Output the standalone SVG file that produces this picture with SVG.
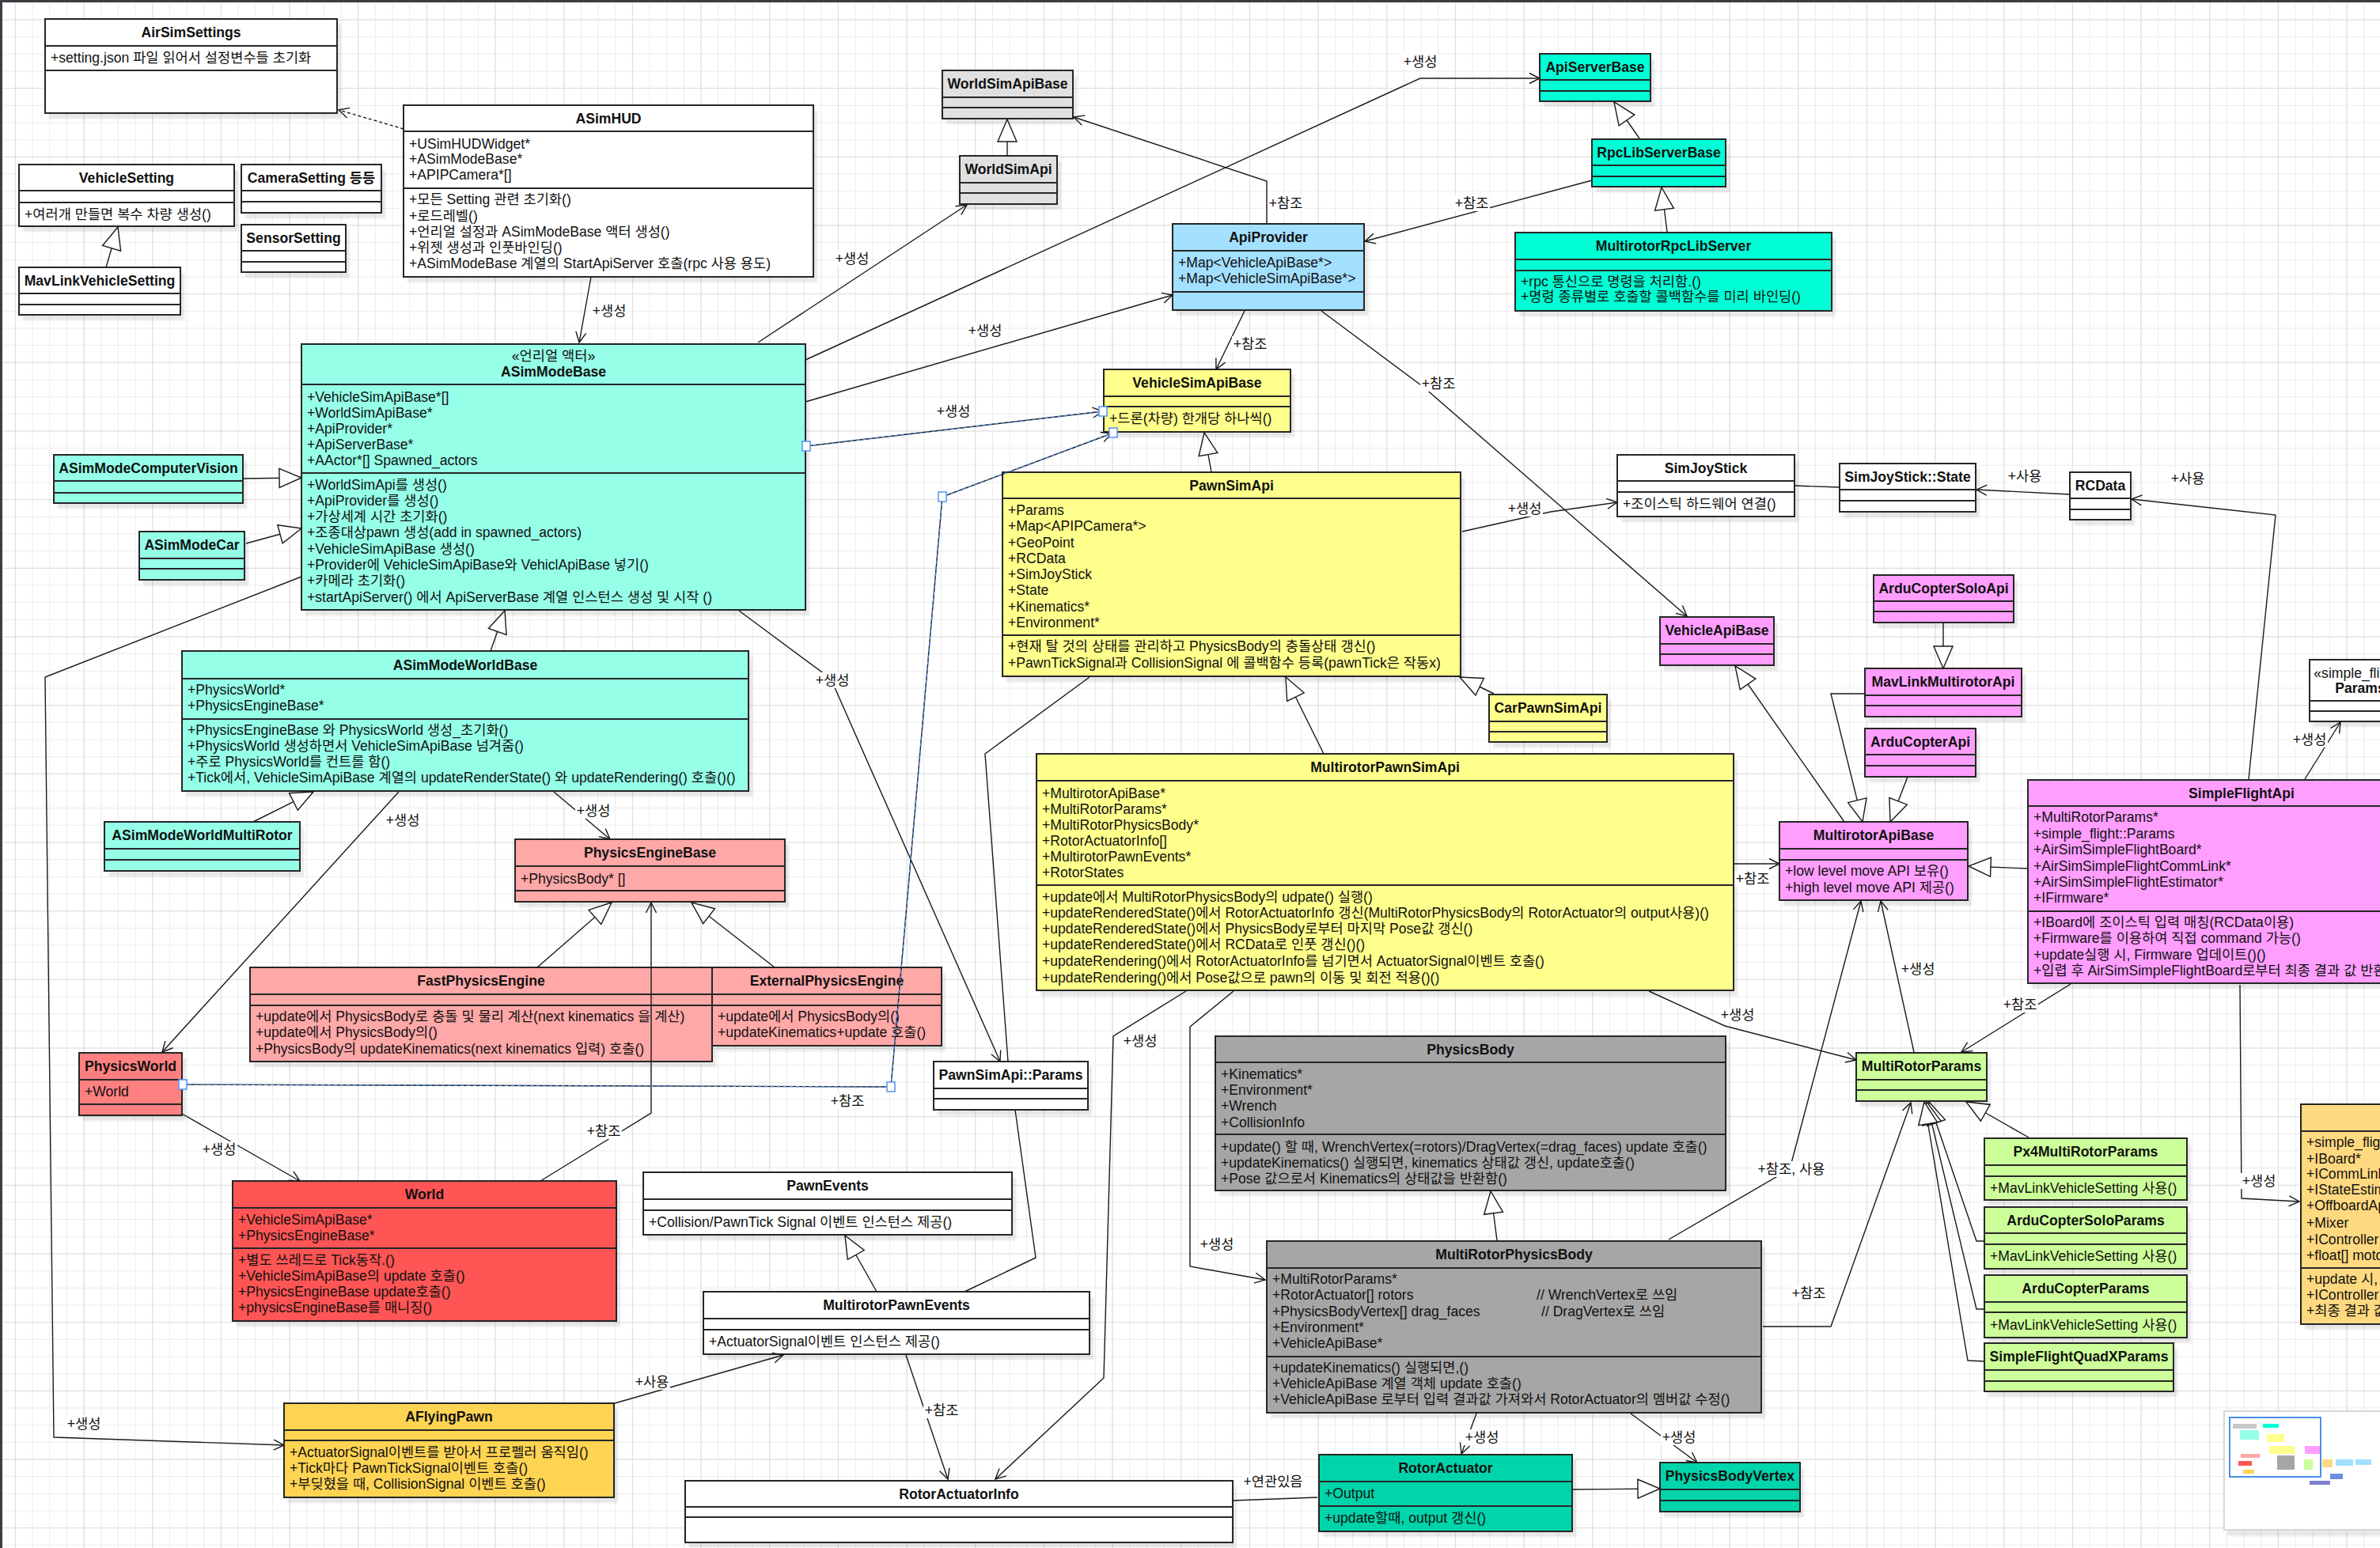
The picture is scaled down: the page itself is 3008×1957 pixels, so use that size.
<svg xmlns="http://www.w3.org/2000/svg" width="3008" height="1957" viewBox="0 0 3008 1957">
<defs>
<style>
.b{stroke:#262626;stroke-width:2;fill:none}
.t{font-family:"Liberation Sans","Noto Sans CJK KR",sans-serif;font-size:17.6px;fill:#111;dominant-baseline:central}
.h{font-weight:bold;text-anchor:middle}
.m{text-anchor:middle}
.e{fill:none;stroke:#1a1a1a;stroke-width:1.4}
.ea{fill:none;stroke:#1a1a1a;stroke-width:1.4;marker-end:url(#open)}
.ei{fill:none;stroke:#1a1a1a;stroke-width:1.4;marker-end:url(#tri)}
.ed{fill:none;stroke:#1a1a1a;stroke-width:1.4;stroke-dasharray:4 3;marker-end:url(#open)}
.sb{fill:none;stroke:#4a8fe6;stroke-width:1.4;stroke-dasharray:4 4}
.hd{fill:#fff;stroke:#5b9bf0;stroke-width:1.6}
.lb{fill:#fff}
.w{fill:#fff}.aq{fill:#95ffe8}.tq{fill:#00ffd5}.lbu{fill:#a3dfff}.gy{fill:#e0e0e0}.ye{fill:#ffff8c}
.pk{fill:#ffa8a8}.pw{fill:#ff8080}.rd{fill:#ff5555}.go{fill:#ffd452}.dg{fill:#a6a6a6}.tl{fill:#00d4aa}
.mg{fill:#ff9eff}.gr{fill:#ccff99}.or{fill:#ffd980}
</style>
<filter id="sh" x="-5%" y="-5%" width="115%" height="120%">
<feDropShadow dx="5" dy="7" stdDeviation="1.2" flood-color="#000" flood-opacity="0.09"/>
</filter>
<marker id="open" markerUnits="userSpaceOnUse" markerWidth="16" markerHeight="16" refX="14" refY="8" orient="auto" overflow="visible">
<path d="M1,1.5 L14,8 L1,14.5" fill="none" stroke="#1a1a1a" stroke-width="1.4"/>
</marker>
<marker id="tri" markerUnits="userSpaceOnUse" markerWidth="30" markerHeight="26" refX="29" refY="13" orient="auto" overflow="visible">
<path d="M1,1 L29,13 L1,25 Z" fill="#fff" stroke="#1a1a1a" stroke-width="1.4"/>
</marker>
<pattern id="gm" width="21.667" height="21.667" patternUnits="userSpaceOnUse" x="-2.8" y="2.8">
<path d="M0,0.5 H21.667 M0.5,0 V21.667" stroke="#ebebeb" stroke-width="1" fill="none"/>
</pattern>
<pattern id="gM" width="86.667" height="86.667" patternUnits="userSpaceOnUse" x="18.9" y="24.5">
<path d="M0,0.5 H86.667 M0.5,0 V86.667" stroke="#dedede" stroke-width="1" fill="none"/>
</pattern>
</defs>

<rect width="3008" height="1957" fill="#fff"/>
<rect width="3008" height="1957" fill="url(#gm)"/>
<rect width="3008" height="1957" fill="url(#gM)"/>
<rect x="0" y="0" width="3008" height="3" fill="#3a3f44"/>
<rect x="0" y="0" width="3" height="1957" fill="#3a3f44"/>

<g id="nodes">
<g id="AirSimSettings"><rect x="57" y="24" width="369" height="119" class="w" filter="url(#sh)"/><rect x="57" y="24" width="369" height="119" class="b"/><path d="M57,58H426M57,89H426" class="b"/>
<text x="241.5" y="41" class="t h">AirSimSettings</text><text x="64" y="73" class="t">+setting.json 파일 읽어서 설정변수들 초기화</text></g>

<g id="ASimHUD"><rect x="510" y="133" width="518" height="217" class="w" filter="url(#sh)"/><rect x="510" y="133" width="518" height="217" class="b"/><path d="M510,166H1028M510,238H1028" class="b"/>
<text x="769" y="150" class="t h">ASimHUD</text>
<text x="517" y="182" class="t">+USimHUDWidget*</text><text x="517" y="201" class="t">+ASimModeBase*</text><text x="517" y="221" class="t">+APIPCamera*[]</text>
<text x="517" y="252" class="t">+모든 Setting 관련 초기화()</text><text x="517" y="273" class="t">+로드레벨()</text><text x="517" y="293" class="t">+언리얼 설정과 ASimModeBase 액터 생성()</text><text x="517" y="313" class="t">+위젯 생성과 인풋바인딩()</text><text x="517" y="333" class="t">+ASimModeBase 계열의 StartApiServer 호출(rpc 사용 용도)</text></g>

<g id="VehicleSetting"><rect x="24" y="208" width="272" height="78" class="w" filter="url(#sh)"/><rect x="24" y="208" width="272" height="78" class="b"/><path d="M24,241H296M24,256H296" class="b"/>
<text x="160" y="224.5" class="t h">VehicleSetting</text><text x="31" y="271" class="t">+여러개 만들면 복수 차량 생성()</text></g>

<g id="CameraSetting"><rect x="305" y="208" width="177" height="61" class="w" filter="url(#sh)"/><rect x="305" y="208" width="177" height="61" class="b"/><path d="M305,241H482M305,255H482" class="b"/>
<text x="393.5" y="224.5" class="t h">CameraSetting 등등</text></g>

<g id="SensorSetting"><rect x="305" y="284" width="132" height="60" class="w" filter="url(#sh)"/><rect x="305" y="284" width="132" height="60" class="b"/><path d="M305,317H437M305,331H437" class="b"/>
<text x="371" y="300.5" class="t h">SensorSetting</text></g>

<g id="MavLinkVehicleSetting"><rect x="24" y="338" width="204" height="60" class="w" filter="url(#sh)"/><rect x="24" y="338" width="204" height="60" class="b"/><path d="M24,371H228M24,385H228" class="b"/>
<text x="126" y="354.5" class="t h">MavLinkVehicleSetting</text></g>

<g id="ASimModeBase"><rect x="381" y="435" width="637" height="336" class="aq" filter="url(#sh)"/><rect x="381" y="435" width="637" height="336" class="b"/><path d="M381,486H1018M381,598H1018" class="b"/>
<text x="699.5" y="450" class="t m">«언리얼 액터»</text><text x="699.5" y="470" class="t h">ASimModeBase</text>
<text x="388" y="502" class="t">+VehicleSimApiBase*[]</text><text x="388" y="522" class="t">+WorldSimApiBase*</text><text x="388" y="542" class="t">+ApiProvider*</text><text x="388" y="562" class="t">+ApiServerBase*</text><text x="388" y="582" class="t">+AActor*[] Spawned_actors</text>
<text x="388" y="613" class="t">+WorldSimApi를 생성()</text><text x="388" y="633" class="t">+ApiProvider를 생성()</text><text x="388" y="653" class="t">+가상세계 시간 초기화()</text><text x="388" y="673" class="t">+조종대상pawn 생성(add in spawned_actors)</text><text x="388" y="694" class="t">+VehicleSimApiBase 생성()</text><text x="388" y="714" class="t">+Provider에 VehicleSimApiBase와 VehiclApiBase 넣기()</text><text x="388" y="734" class="t">+카메라 초기화()</text><text x="388" y="755" class="t">+startApiServer() 에서 ApiServerBase 계열 인스턴스 생성 및 시작 ()</text></g>

<g id="ASimModeComputerVision"><rect x="68" y="575" width="239" height="61" class="aq" filter="url(#sh)"/><rect x="68" y="575" width="239" height="61" class="b"/><path d="M68,608H307M68,623H307" class="b"/>
<text x="187.5" y="591.5" class="t h">ASimModeComputerVision</text></g>

<g id="ASimModeCar"><rect x="176" y="672" width="133" height="61" class="aq" filter="url(#sh)"/><rect x="176" y="672" width="133" height="61" class="b"/><path d="M176,706H309M176,719H309" class="b"/>
<text x="242.5" y="689" class="t h">ASimModeCar</text></g>

<g id="ASimModeWorldBase"><rect x="230" y="823" width="716" height="177" class="aq" filter="url(#sh)"/><rect x="230" y="823" width="716" height="177" class="b"/><path d="M230,858H946M230,909H946" class="b"/>
<text x="588" y="840.5" class="t h">ASimModeWorldBase</text>
<text x="237" y="872" class="t">+PhysicsWorld*</text><text x="237" y="892" class="t">+PhysicsEngineBase*</text>
<text x="237" y="923" class="t">+PhysicsEngineBase 와 PhysicsWorld 생성_초기화()</text><text x="237" y="943" class="t">+PhysicsWorld 생성하면서 VehicleSimApiBase 넘겨줌()</text><text x="237" y="963" class="t">+주로 PhysicsWorld를 컨트롤 함()</text><text x="237" y="983" class="t">+Tick에서, VehicleSimApiBase 계열의 updateRenderState() 와 updateRendering() 호출()()</text></g>

<g id="ASimModeWorldMultiRotor"><rect x="132" y="1039" width="247" height="62" class="aq" filter="url(#sh)"/><rect x="132" y="1039" width="247" height="62" class="b"/><path d="M132,1073H379M132,1087H379" class="b"/>
<text x="255.5" y="1056" class="t h">ASimModeWorldMultiRotor</text></g>

<g id="PhysicsEngineBase"><rect x="651" y="1061" width="341" height="79" class="pk" filter="url(#sh)"/><rect x="651" y="1061" width="341" height="79" class="b"/><path d="M651,1095H992M651,1126H992" class="b"/>
<text x="821.5" y="1078" class="t h">PhysicsEngineBase</text><text x="658" y="1111" class="t">+PhysicsBody* []</text></g>

<g id="FastPhysicsEngine"><rect x="316" y="1223" width="584" height="119" class="pk" filter="url(#sh)"/><rect x="316" y="1223" width="584" height="119" class="b"/><path d="M316,1257H900M316,1271H900" class="b"/>
<text x="608" y="1240" class="t h">FastPhysicsEngine</text>
<text x="323" y="1285" class="t">+update에서 PhysicsBody로 충돌 및 물리 계산(next kinematics 을 계산)</text><text x="323" y="1305" class="t">+update에서 PhysicsBody의()</text><text x="323" y="1326" class="t">+PhysicsBody의 updateKinematics(next kinematics 입력) 호출()</text></g>

<g id="ExternalPhysicsEngine"><rect x="900" y="1223" width="290" height="99" class="pk" filter="url(#sh)"/><rect x="900" y="1223" width="290" height="99" class="b"/><path d="M900,1257H1190M900,1271H1190" class="b"/>
<text x="1045" y="1240" class="t h">ExternalPhysicsEngine</text>
<text x="907" y="1285" class="t">+update에서 PhysicsBody의()</text><text x="907" y="1305" class="t">+updateKinematics+update 호출()</text></g>

<g id="PhysicsWorld"><rect x="100" y="1331" width="130" height="79" class="pw" filter="url(#sh)"/><rect x="100" y="1331" width="130" height="79" class="b"/><path d="M100,1365H230M100,1396H230" class="b"/>
<text x="165" y="1348" class="t h">PhysicsWorld</text><text x="107" y="1380" class="t">+World</text></g>

<g id="World"><rect x="294" y="1493" width="485" height="177" class="rd" filter="url(#sh)"/><rect x="294" y="1493" width="485" height="177" class="b"/><path d="M294,1527H779M294,1578H779" class="b"/>
<text x="536.5" y="1510" class="t h">World</text>
<text x="301" y="1542" class="t">+VehicleSimApiBase*</text><text x="301" y="1562" class="t">+PhysicsEngineBase*</text>
<text x="301" y="1593" class="t">+별도 쓰레드로 Tick동작.()</text><text x="301" y="1613" class="t">+VehicleSimApiBase의 update 호출()</text><text x="301" y="1633" class="t">+PhysicsEngineBase  update호출()</text><text x="301" y="1653" class="t">+physicsEngineBase를 매니징()</text></g>

<g id="AFlyingPawn"><rect x="359" y="1774" width="417" height="119" class="go" filter="url(#sh)"/><rect x="359" y="1774" width="417" height="119" class="b"/><path d="M359,1808H776M359,1821H776" class="b"/>
<text x="567.5" y="1791" class="t h">AFlyingPawn</text>
<text x="366" y="1836" class="t">+ActuatorSignal이벤트를 받아서 프로펠러 움직임()</text><text x="366" y="1856" class="t">+Tick마다 PawnTickSignal이벤트 호출()</text><text x="366" y="1876" class="t">+부딪혔을 때, CollisionSignal 이벤트 호출()</text></g>

<g id="PawnEvents"><rect x="813" y="1482" width="466" height="79" class="w" filter="url(#sh)"/><rect x="813" y="1482" width="466" height="79" class="b"/><path d="M813,1516H1279M813,1530H1279" class="b"/>
<text x="1046" y="1499" class="t h">PawnEvents</text><text x="820" y="1545" class="t">+Collision/PawnTick Signal 이벤트 인스턴스 제공()</text></g>

<g id="MultirotorPawnEvents"><rect x="889" y="1633" width="488" height="79" class="w" filter="url(#sh)"/><rect x="889" y="1633" width="488" height="79" class="b"/><path d="M889,1667H1377M889,1681H1377" class="b"/>
<text x="1133" y="1650" class="t h">MultirotorPawnEvents</text><text x="896" y="1696" class="t">+ActuatorSignal이벤트 인스턴스 제공()</text></g>

<g id="RotorActuatorInfo"><rect x="866" y="1872" width="692" height="78" class="w" filter="url(#sh)"/><rect x="866" y="1872" width="692" height="78" class="b"/><path d="M866,1905H1558M866,1918H1558" class="b"/>
<text x="1212" y="1888.5" class="t h">RotorActuatorInfo</text></g>

<g id="PawnSimApiParams"><rect x="1180" y="1342" width="195" height="61" class="w" filter="url(#sh)"/><rect x="1180" y="1342" width="195" height="61" class="b"/><path d="M1180,1376H1375M1180,1389H1375" class="b"/>
<text x="1277.5" y="1359" class="t h">PawnSimApi::Params</text></g>

<g id="WorldSimApiBase"><rect x="1191" y="89" width="165" height="61" class="gy" filter="url(#sh)"/><rect x="1191" y="89" width="165" height="61" class="b"/><path d="M1191,123H1356M1191,136H1356" class="b"/>
<text x="1273.5" y="106" class="t h">WorldSimApiBase</text></g>

<g id="WorldSimApi"><rect x="1213" y="197" width="123" height="61" class="gy" filter="url(#sh)"/><rect x="1213" y="197" width="123" height="61" class="b"/><path d="M1213,231H1336M1213,244H1336" class="b"/>
<text x="1274.5" y="214" class="t h">WorldSimApi</text></g>

<g id="ApiProvider"><rect x="1482" y="283" width="242" height="109" class="lbu" filter="url(#sh)"/><rect x="1482" y="283" width="242" height="109" class="b"/><path d="M1482,317H1724M1482,369H1724" class="b"/>
<text x="1603" y="300" class="t h">ApiProvider</text>
<text x="1489" y="332" class="t">+Map&lt;VehicleApiBase*&gt;</text><text x="1489" y="352" class="t">+Map&lt;VehicleSimApiBase*&gt;</text></g>

<g id="VehicleSimApiBase"><rect x="1395" y="467" width="236" height="79" class="ye" filter="url(#sh)"/><rect x="1395" y="467" width="236" height="79" class="b"/><path d="M1395,501H1631M1395,514H1631" class="b"/>
<text x="1513" y="484" class="t h">VehicleSimApiBase</text><text x="1402" y="529" class="t">+드론(차량) 한개당 하나씩()</text></g>

<g id="PawnSimApi"><rect x="1267" y="597" width="579" height="258" class="ye" filter="url(#sh)"/><rect x="1267" y="597" width="579" height="258" class="b"/><path d="M1267,630H1846M1267,803H1846" class="b"/>
<text x="1556.5" y="613.5" class="t h">PawnSimApi</text>
<text x="1274" y="645" class="t">+Params</text><text x="1274" y="665" class="t">+Map&lt;APIPCamera*&gt;</text><text x="1274" y="686" class="t">+GeoPoint</text><text x="1274" y="706" class="t">+RCData</text><text x="1274" y="726" class="t">+SimJoyStick</text><text x="1274" y="746" class="t">+State</text><text x="1274" y="767" class="t">+Kinematics*</text><text x="1274" y="787" class="t">+Environment*</text>
<text x="1274" y="817" class="t">+현재 탈 것의 상태를 관리하고 PhysicsBody의 충돌상태 갱신()</text><text x="1274" y="838" class="t">+PawnTickSignal과 CollisionSignal 에 콜백함수 등록(pawnTick은 작동x)</text></g>

<g id="CarPawnSimApi"><rect x="1882" y="878" width="149" height="60" class="ye" filter="url(#sh)"/><rect x="1882" y="878" width="149" height="60" class="b"/><path d="M1882,912H2031M1882,925H2031" class="b"/>
<text x="1956.5" y="895" class="t h">CarPawnSimApi</text></g>

<g id="MultirotorPawnSimApi"><rect x="1310" y="953" width="881" height="299" class="ye" filter="url(#sh)"/><rect x="1310" y="953" width="881" height="299" class="b"/><path d="M1310,987H2191M1310,1119H2191" class="b"/>
<text x="1750.5" y="970" class="t h">MultirotorPawnSimApi</text>
<text x="1317" y="1003" class="t">+MultirotorApiBase*</text><text x="1317" y="1023" class="t">+MultiRotorParams*</text><text x="1317" y="1043" class="t">+MultiRotorPhysicsBody*</text><text x="1317" y="1063" class="t">+RotorActuatorInfo[]</text><text x="1317" y="1083" class="t">+MultirotorPawnEvents*</text><text x="1317" y="1103" class="t">+RotorStates</text>
<text x="1317" y="1134" class="t">+update에서 MultiRotorPhysicsBody의 udpate() 실행()</text><text x="1317" y="1154" class="t">+updateRenderedState()에서 RotorActuatorInfo 갱신(MultiRotorPhysicsBody의 RotorActuator의 output사용)()</text><text x="1317" y="1174" class="t">+updateRenderedState()에서 PhysicsBody로부터 마지막 Pose값 갱신()</text><text x="1317" y="1194" class="t">+updateRenderedState()에서 RCData로 인풋 갱신()()</text><text x="1317" y="1215" class="t">+updateRendering()에서 RotorActuatorInfo를 넘기면서 ActuatorSignal이벤트 호출()</text><text x="1317" y="1236" class="t">+updateRendering()에서 Pose값으로 pawn의 이동 및 회전 적용()()</text></g>

<g id="PhysicsBody"><rect x="1536" y="1310" width="645" height="195" class="dg" filter="url(#sh)"/><rect x="1536" y="1310" width="645" height="195" class="b"/><path d="M1536,1343H2181M1536,1434H2181" class="b"/>
<text x="1858.5" y="1327" class="t h">PhysicsBody</text>
<text x="1543" y="1358" class="t">+Kinematics*</text><text x="1543" y="1378" class="t">+Environment*</text><text x="1543" y="1398" class="t">+Wrench</text><text x="1543" y="1419" class="t">+CollisionInfo</text>
<text x="1543" y="1450" class="t">+update() 할 때, WrenchVertex(=rotors)/DragVertex(=drag_faces) update 호출()</text><text x="1543" y="1470" class="t">+updateKinematics() 실행되면, kinematics 상태값 갱신, update호출()</text><text x="1543" y="1490" class="t">+Pose 값으로서 Kinematics의 상태값을 반환함()</text></g>

<g id="MultiRotorPhysicsBody"><rect x="1601" y="1569" width="625" height="217" class="dg" filter="url(#sh)"/><rect x="1601" y="1569" width="625" height="217" class="b"/><path d="M1601,1603H2226M1601,1715H2226" class="b"/>
<text x="1913.5" y="1586" class="t h">MultiRotorPhysicsBody</text>
<text x="1608" y="1617" class="t">+MultiRotorParams*</text><text x="1608" y="1637" class="t">+RotorActuator[] rotors</text><text x="1942" y="1637" class="t">// WrenchVertex로 쓰임</text><text x="1608" y="1658" class="t">+PhysicsBodyVertex[] drag_faces</text><text x="1948" y="1658" class="t">// DragVertex로 쓰임</text><text x="1608" y="1678" class="t">+Environment*</text><text x="1608" y="1698" class="t">+VehicleApiBase*</text>
<text x="1608" y="1729" class="t">+updateKinematics() 실행되면,()</text><text x="1608" y="1749" class="t">+VehicleApiBase 계열 객체 update 호출()</text><text x="1608" y="1769" class="t">+VehicleApiBase 로부터 입력 결과값 가져와서 RotorActuator의 멤버값 수정()</text></g>

<g id="RotorActuator"><rect x="1667" y="1839" width="320" height="97" class="tl" filter="url(#sh)"/><rect x="1667" y="1839" width="320" height="97" class="b"/><path d="M1667,1873H1987M1667,1904H1987" class="b"/>
<text x="1827" y="1856" class="t h">RotorActuator</text><text x="1674" y="1888" class="t">+Output</text><text x="1674" y="1919" class="t">+update할때, output 갱신()</text></g>

<g id="PhysicsBodyVertex"><rect x="2098" y="1849" width="177" height="62" class="tl" filter="url(#sh)"/><rect x="2098" y="1849" width="177" height="62" class="b"/><path d="M2098,1883H2275M2098,1897H2275" class="b"/>
<text x="2186.5" y="1866" class="t h">PhysicsBodyVertex</text></g>

<g id="ApiServerBase"><rect x="1946" y="68" width="140" height="60" class="tq" filter="url(#sh)"/><rect x="1946" y="68" width="140" height="60" class="b"/><path d="M1946,101H2086M1946,115H2086" class="b"/>
<text x="2016" y="84.5" class="t h">ApiServerBase</text></g>

<g id="RpcLibServerBase"><rect x="2012" y="176" width="169" height="60" class="tq" filter="url(#sh)"/><rect x="2012" y="176" width="169" height="60" class="b"/><path d="M2012,209H2181M2012,223H2181" class="b"/>
<text x="2096.5" y="192.5" class="t h">RpcLibServerBase</text></g>

<g id="MultirotorRpcLibServer"><rect x="1915" y="294" width="400" height="99" class="tq" filter="url(#sh)"/><rect x="1915" y="294" width="400" height="99" class="b"/><path d="M1915,328H2315M1915,342H2315" class="b"/>
<text x="2115" y="311" class="t h">MultirotorRpcLibServer</text>
<text x="1922" y="356" class="t">+rpc 통신으로 명령을 처리함.()</text><text x="1922" y="375" class="t">+명령 종류별로 호출할 콜백함수를 미리 바인딩()</text></g>

<g id="SimJoyStick"><rect x="2044" y="575" width="224" height="78" class="w" filter="url(#sh)"/><rect x="2044" y="575" width="224" height="78" class="b"/><path d="M2044,608H2268M2044,622H2268" class="b"/>
<text x="2156" y="591.5" class="t h">SimJoyStick</text><text x="2051" y="637" class="t">+조이스틱 하드웨어 연결()</text></g>

<g id="SimJoyStickState"><rect x="2325" y="586" width="172" height="61" class="w" filter="url(#sh)"/><rect x="2325" y="586" width="172" height="61" class="b"/><path d="M2325,619H2497M2325,633H2497" class="b"/>
<text x="2411" y="602.5" class="t h">SimJoyStick::State</text></g>

<g id="RCData"><rect x="2616" y="597" width="77" height="60" class="w" filter="url(#sh)"/><rect x="2616" y="597" width="77" height="60" class="b"/><path d="M2616,630H2693M2616,644H2693" class="b"/>
<text x="2654.5" y="613.5" class="t h">RCData</text></g>

<g id="VehicleApiBase"><rect x="2098" y="780" width="144" height="61" class="mg" filter="url(#sh)"/><rect x="2098" y="780" width="144" height="61" class="b"/><path d="M2098,814H2242M2098,827H2242" class="b"/>
<text x="2170" y="797" class="t h">VehicleApiBase</text></g>

<g id="ArduCopterSoloApi"><rect x="2368" y="727" width="177" height="60" class="mg" filter="url(#sh)"/><rect x="2368" y="727" width="177" height="60" class="b"/><path d="M2368,760H2545M2368,773H2545" class="b"/>
<text x="2456.5" y="743.5" class="t h">ArduCopterSoloApi</text></g>

<g id="MavLinkMultirotorApi"><rect x="2357" y="845" width="198" height="61" class="mg" filter="url(#sh)"/><rect x="2357" y="845" width="198" height="61" class="b"/><path d="M2357,879H2555M2357,892H2555" class="b"/>
<text x="2456" y="862" class="t h">MavLinkMultirotorApi</text></g>

<g id="ArduCopterApi"><rect x="2357" y="921" width="140" height="61" class="mg" filter="url(#sh)"/><rect x="2357" y="921" width="140" height="61" class="b"/><path d="M2357,954H2497M2357,968H2497" class="b"/>
<text x="2427" y="937.5" class="t h">ArduCopterApi</text></g>

<g id="SimpleFlightParams"><rect x="2919" y="834" width="128" height="78" class="w" filter="url(#sh)"/><rect x="2919" y="834" width="128" height="78" class="b"/><path d="M2919,886H3047M2919,899H3047" class="b"/>
<text x="2983" y="851" class="t m">«simple_flight»</text><text x="2983" y="870" class="t h">Params</text></g>

<g id="MultirotorApiBase"><rect x="2249" y="1039" width="238" height="99" class="mg" filter="url(#sh)"/><rect x="2249" y="1039" width="238" height="99" class="b"/><path d="M2249,1073H2487M2249,1087H2487" class="b"/>
<text x="2368" y="1056" class="t h">MultirotorApiBase</text>
<text x="2256" y="1101" class="t">+low level move API 보유()</text><text x="2256" y="1122" class="t">+high level move API 제공()</text></g>

<g id="SimpleFlightApi"><rect x="2563" y="986" width="540" height="257" class="mg" filter="url(#sh)"/><rect x="2563" y="986" width="540" height="257" class="b"/><path d="M2563,1019H3103M2563,1152H3103" class="b"/>
<text x="2833" y="1002.5" class="t h">SimpleFlightApi</text>
<text x="2570" y="1033" class="t">+MultiRotorParams*</text><text x="2570" y="1054" class="t">+simple_flight::Params</text><text x="2570" y="1074" class="t">+AirSimSimpleFlightBoard*</text><text x="2570" y="1095" class="t">+AirSimSimpleFlightCommLink*</text><text x="2570" y="1115" class="t">+AirSimSimpleFlightEstimator*</text><text x="2570" y="1135" class="t">+IFirmware*</text>
<text x="2570" y="1166" class="t">+IBoard에 조이스틱 입력 매칭(RCData이용)</text><text x="2570" y="1186" class="t">+Firmware를 이용하여 직접 command 가능()</text><text x="2570" y="1207" class="t">+update실행 시, Firmware 업데이트()()</text><text x="2570" y="1227" class="t">+입렵 후 AirSimSimpleFlightBoard로부터 최종 결과 값 반환()</text></g>

<g id="FirmwareBox"><rect x="2908" y="1396" width="250" height="278" class="or" filter="url(#sh)"/><rect x="2908" y="1396" width="250" height="278" class="b"/><path d="M2908,1430H3158M2908,1603H3158" class="b"/>
<text x="2915" y="1444" class="t">+simple_flight</text><text x="2915" y="1465" class="t">+IBoard*</text><text x="2915" y="1484" class="t">+ICommLink</text><text x="2915" y="1504" class="t">+IStateEstim</text><text x="2915" y="1524" class="t">+OffboardApi</text><text x="2915" y="1546" class="t">+Mixer</text><text x="2915" y="1567" class="t">+IController</text><text x="2915" y="1587" class="t">+float[] motor</text>
<text x="2915" y="1617" class="t">+update 시, </text><text x="2915" y="1637" class="t">+IController</text><text x="2915" y="1657" class="t">+최종 결과 값</text></g>

<g id="MultiRotorParams"><rect x="2346" y="1331" width="165" height="61" class="gr" filter="url(#sh)"/><rect x="2346" y="1331" width="165" height="61" class="b"/><path d="M2346,1365H2511M2346,1378H2511" class="b"/>
<text x="2428.5" y="1348" class="t h">MultiRotorParams</text></g>

<g id="Px4MultiRotorParams"><rect x="2508" y="1439" width="256" height="78" class="gr" filter="url(#sh)"/><rect x="2508" y="1439" width="256" height="78" class="b"/><path d="M2508,1473H2764M2508,1487H2764" class="b"/>
<text x="2636" y="1456" class="t h">Px4MultiRotorParams</text><text x="2515" y="1502" class="t">+MavLinkVehicleSetting 사용()</text></g>

<g id="ArduCopterSoloParams"><rect x="2508" y="1526" width="256" height="78" class="gr" filter="url(#sh)"/><rect x="2508" y="1526" width="256" height="78" class="b"/><path d="M2508,1559H2764M2508,1573H2764" class="b"/>
<text x="2636" y="1542.5" class="t h">ArduCopterSoloParams</text><text x="2515" y="1588" class="t">+MavLinkVehicleSetting 사용()</text></g>

<g id="ArduCopterParams"><rect x="2508" y="1612" width="256" height="79" class="gr" filter="url(#sh)"/><rect x="2508" y="1612" width="256" height="79" class="b"/><path d="M2508,1646H2764M2508,1659H2764" class="b"/>
<text x="2636" y="1629" class="t h">ArduCopterParams</text><text x="2515" y="1675" class="t">+MavLinkVehicleSetting 사용()</text></g>

<g id="SimpleFlightQuadXParams"><rect x="2508" y="1698" width="239" height="61" class="gr" filter="url(#sh)"/><rect x="2508" y="1698" width="239" height="61" class="b"/><path d="M2508,1732H2747M2508,1746H2747" class="b"/>
<text x="2627.5" y="1715" class="t h">SimpleFlightQuadXParams</text></g>
</g>

<g id="connectors">
<path d="M510,163 L428,139" class="ed"/>
<path d="M747,350 L732,433" class="ea"/>
<path d="M134,338 L149,287" class="ei"/>
<path d="M307,605 L381,604" class="ei"/>
<path d="M311,687 L381,668" class="ei"/>
<path d="M620,823 L638,772" class="ei"/>
<path d="M320,1039 L396,1001" class="ei"/>
<path d="M700,1001 L771,1061" class="ea"/>
<path d="M504,1001 L205,1330" class="ea"/>
<path d="M679,1223 L773,1141" class="ei"/>
<path d="M979,1223 L874,1141" class="ei"/>
<path d="M683,1493 L823,1407 L823,1141" class="ea"/>
<path d="M230,1408 L379,1493" class="ea"/>
<path d="M958,433 L1222,259" class="ea"/>
<path d="M1018,455 L1795,99 L1946,99" class="ea"/>
<path d="M1018,508 L1482,373" class="ea"/>
<path d="M934,772 L1050,858 L1264,1342" class="ea"/>
<path d="M381,729 L57,856 L68,1817 L359,1827" class="ea"/>
<path d="M1273,197 L1273,151" class="ei"/>
<path d="M1601,283 L1601,229 L1357,148" class="ea"/>
<path d="M2012,228 L1725,305" class="ea"/>
<path d="M2072,175 L2040,129" class="ei"/>
<path d="M2107,293 L2100,237" class="ei"/>
<path d="M1573,393 L1537,467" class="ea"/>
<path d="M1670,393 L1800,490 L2132,779" class="ea"/>
<path d="M1531,597 L1522,547" class="ei"/>
<path d="M1848,672 L1960,647 L2044,635" class="ea"/>
<path d="M2268,614 L2325,616" class="e"/>
<path d="M2616,625 L2498,619" class="ea"/>
<path d="M2842,985 L2876,651 L2694,631" class="ea"/>
<path d="M1673,953 L1625,856" class="ei"/>
<path d="M1888,877 L1845,856" class="ei"/>
<path d="M1377,856 L1245,953 L1274,1342" class="e"/>
<path d="M1283,1403 L1309,1590 L1219,1633" class="e"/>
<path d="M2191,1092 L2249,1092" class="ea"/>
<path d="M2357,877 L2314,877 L2354,1039" class="ei"/>
<path d="M2456,787 L2456,845" class="ei"/>
<path d="M2411,982 L2389,1039" class="ei"/>
<path d="M2331,1039 L2193,842" class="ei"/>
<path d="M2563,1098 L2488,1095" class="ei"/>
<path d="M2913,985 L2958,913" class="ea"/>
<path d="M2419,1330 L2377,1139" class="ea"/>
<path d="M2109,1567 L2262,1478 L2352,1139" class="ea"/>
<path d="M2617,1244 L2479,1330" class="ea"/>
<path d="M2084,1253 L2180,1297 L2346,1340" class="ea"/>
<path d="M2228,1677 L2314,1677 L2415,1394" class="ea"/>
<path d="M2564,1438 L2485,1393" class="ei"/>
<path d="M2508,1569 L2498,1569 L2438,1393" class="ei"/>
<path d="M2508,1655 L2498,1655 L2435,1393" class="ei"/>
<path d="M2508,1721 L2487,1720 L2432,1393" class="ei"/>
<path d="M2831,1245 L2833,1515 L2906,1519" class="ea"/>
<path d="M1499,1253 L1407,1310 L1395,1742 L1258,1870" class="ea"/>
<path d="M1559,1253 L1504,1298 L1504,1601 L1599,1618" class="ea"/>
<path d="M1892,1568 L1884,1506" class="ei"/>
<path d="M1866,1787 L1847,1838" class="ea"/>
<path d="M2061,1787 L2145,1849" class="ea"/>
<path d="M1987,1883 L2098,1882" class="ei"/>
<path d="M1558,1897 L1665,1893" class="e"/>
<path d="M1145,1713 L1198,1870" class="ea"/>
<path d="M1108,1633 L1068,1562" class="ei"/>
<path d="M777,1774 L990,1713" class="ea"/>
<path d="M1019,564 L1394,520" class="ea"/>
<path d="M1019,564 L1394,520" class="sb"/>
<path d="M230,1371 L1126,1374 L1191,628 L1405,548" class="ea"/>
<path d="M230,1371 L1126,1374 L1191,628 L1405,548" class="sb"/>
<rect x="1014" y="558" width="10" height="12" class="hd"/>
<rect x="1389" y="514" width="10" height="12" class="hd"/>
<rect x="1402" y="541" width="10" height="12" class="hd"/>
<rect x="1186" y="622" width="10" height="12" class="hd"/>
<rect x="226" y="1365" width="10" height="12" class="hd"/>
<rect x="1121" y="1368" width="10" height="12" class="hd"/>
<g id="labels">
<rect x="747" y="383" width="46" height="20" class="lb"/><text x="770" y="393" class="t m">+생성</text>
<rect x="727" y="1015" width="46" height="20" class="lb"/><text x="750" y="1025" class="t m">+생성</text>
<rect x="486" y="1027" width="46" height="20" class="lb"/><text x="509" y="1037" class="t m">+생성</text>
<rect x="740" y="1420" width="46" height="20" class="lb"/><text x="763" y="1430" class="t m">+참조</text>
<rect x="254" y="1443" width="46" height="20" class="lb"/><text x="277" y="1453" class="t m">+생성</text>
<rect x="1048" y="1382" width="46" height="20" class="lb"/><text x="1071" y="1392" class="t m">+참조</text>
<rect x="1182" y="510" width="46" height="20" class="lb"/><text x="1205" y="520" class="t m">+생성</text>
<rect x="1054" y="317" width="46" height="20" class="lb"/><text x="1077" y="327" class="t m">+생성</text>
<rect x="1772" y="68" width="46" height="20" class="lb"/><text x="1795" y="78" class="t m">+생성</text>
<rect x="1222" y="408" width="46" height="20" class="lb"/><text x="1245" y="418" class="t m">+생성</text>
<rect x="1029" y="850" width="46" height="20" class="lb"/><text x="1052" y="860" class="t m">+생성</text>
<rect x="83" y="1790" width="46" height="20" class="lb"/><text x="106" y="1800" class="t m">+생성</text>
<rect x="1602" y="247" width="46" height="20" class="lb"/><text x="1625" y="257" class="t m">+참조</text>
<rect x="1837" y="247" width="46" height="20" class="lb"/><text x="1860" y="257" class="t m">+참조</text>
<rect x="1557" y="425" width="46" height="20" class="lb"/><text x="1580" y="435" class="t m">+참조</text>
<rect x="1795" y="475" width="46" height="20" class="lb"/><text x="1818" y="485" class="t m">+참조</text>
<rect x="1904" y="633" width="46" height="20" class="lb"/><text x="1927" y="643" class="t m">+생성</text>
<rect x="2536" y="592" width="46" height="20" class="lb"/><text x="2559" y="602" class="t m">+사용</text>
<rect x="2742" y="595" width="46" height="20" class="lb"/><text x="2765" y="605" class="t m">+사용</text>
<rect x="2192" y="1101" width="46" height="20" class="lb"/><text x="2215" y="1111" class="t m">+참조</text>
<rect x="2896" y="925" width="46" height="20" class="lb"/><text x="2919" y="935" class="t m">+생성</text>
<rect x="2401" y="1215" width="46" height="20" class="lb"/><text x="2424" y="1225" class="t m">+생성</text>
<rect x="2219" y="1468" width="90" height="20" class="lb"/><text x="2264" y="1478" class="t m">+참조, 사용</text>
<rect x="2530" y="1260" width="46" height="20" class="lb"/><text x="2553" y="1270" class="t m">+참조</text>
<rect x="2173" y="1273" width="46" height="20" class="lb"/><text x="2196" y="1283" class="t m">+생성</text>
<rect x="2263" y="1625" width="46" height="20" class="lb"/><text x="2286" y="1635" class="t m">+참조</text>
<rect x="2832" y="1483" width="46" height="20" class="lb"/><text x="2855" y="1493" class="t m">+생성</text>
<rect x="1418" y="1306" width="46" height="20" class="lb"/><text x="1441" y="1316" class="t m">+생성</text>
<rect x="1515" y="1563" width="46" height="20" class="lb"/><text x="1538" y="1573" class="t m">+생성</text>
<rect x="1850" y="1807" width="46" height="20" class="lb"/><text x="1873" y="1817" class="t m">+생성</text>
<rect x="2099" y="1807" width="46" height="20" class="lb"/><text x="2122" y="1817" class="t m">+생성</text>
<rect x="1569" y="1863" width="80" height="20" class="lb"/><text x="1609" y="1873" class="t m">+연관있음</text>
<rect x="1167" y="1773" width="46" height="20" class="lb"/><text x="1190" y="1783" class="t m">+참조</text>
<rect x="801" y="1737" width="46" height="20" class="lb"/><text x="824" y="1747" class="t m">+사용</text>
</g>
</g>

<g id="minimap">
<rect x="2811" y="1784" width="200" height="150" fill="#fff" stroke="#d6d6d6" stroke-width="2" filter="url(#sh)"/>
<rect x="2831" y="1808" width="24" height="12" fill="#95ffe8"/>
<rect x="2822" y="1800" width="30" height="6" fill="#c8c8c8"/>
<rect x="2860" y="1800" width="20" height="5" fill="#00ffd5"/>
<rect x="2865" y="1813" width="22" height="10" fill="#ffff8c"/>
<rect x="2868" y="1828" width="32" height="10" fill="#ffff8c"/>
<rect x="2913" y="1828" width="19" height="10" fill="#ff9eff"/>
<rect x="2829" y="1847" width="17" height="6" fill="#ff5555"/>
<rect x="2832" y="1838" width="24" height="5" fill="#ffa8a8"/>
<rect x="2878" y="1840" width="22" height="18" fill="#a6a6a6"/>
<rect x="2912" y="1845" width="11" height="13" fill="#ccff99"/>
<rect x="2835" y="1858" width="14" height="5" fill="#ffd452"/>
<rect x="2935" y="1845" width="13" height="10" fill="#ffd980"/>
<rect x="2952" y="1845" width="22" height="8" fill="#a3dfff"/>
<rect x="2977" y="1845" width="20" height="7" fill="#a3dfff"/>
<rect x="2945" y="1863" width="16" height="7" fill="#6e8fe0"/>
<rect x="2919" y="1872" width="26" height="5" fill="#8080d0"/>
<rect x="2818" y="1792" width="115" height="75" fill="none" stroke="#4a8fe6" stroke-width="2"/>
</g>
</svg>
